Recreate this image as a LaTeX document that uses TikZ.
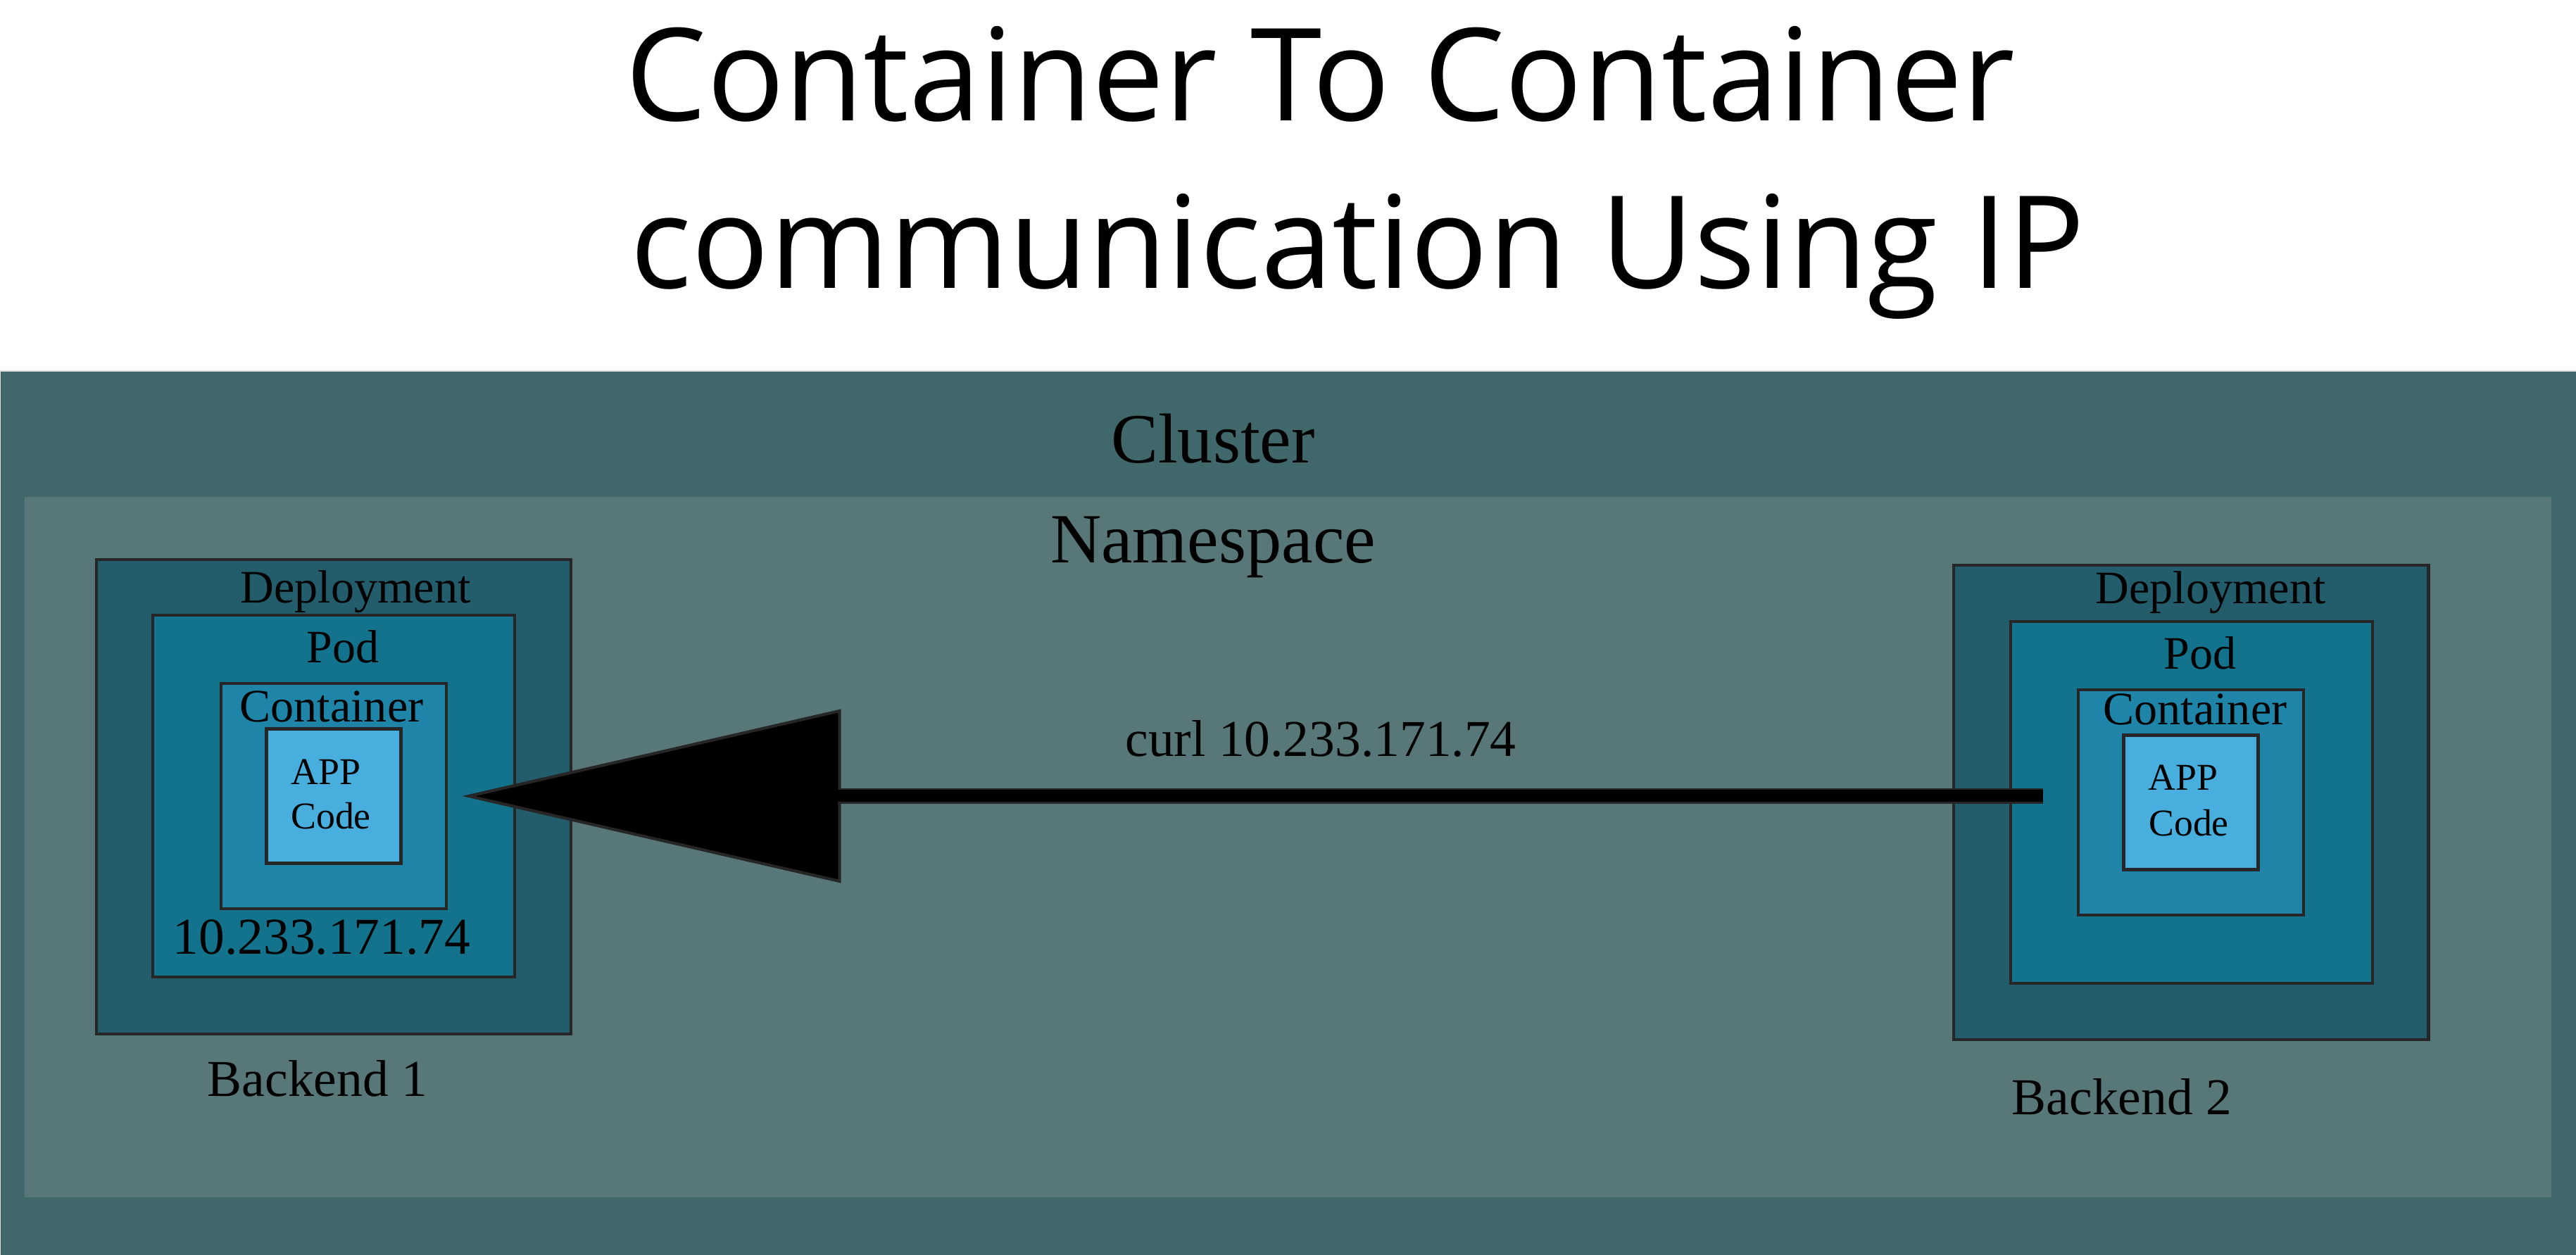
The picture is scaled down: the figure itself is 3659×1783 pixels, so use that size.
\documentclass[tikz,border=0pt]{standalone}
\usepackage{fontspec}
\setmainfont{Liberation Serif}
\newfontfamily\titlefont{Open Sans}
\usetikzlibrary{arrows.meta}
\definecolor{clustercol}{HTML}{40686A}
\definecolor{nscol}{HTML}{587779}
\definecolor{depcol}{HTML}{235D6B}
\definecolor{podcol}{HTML}{13738D}
\definecolor{contcol}{HTML}{1F85A8}
\definecolor{appcol}{HTML}{47AEDE}
\definecolor{edgecol}{HTML}{262626}
\begin{document}
\begin{tikzpicture}[x=0.01cm,y=-0.01cm,
  box/.style={draw=edgecol,line width=1.3pt,inner sep=0,minimum size=#1},
  lbl/.style={inner sep=0,anchor=base},
  big/.style={lbl,font=\fontsize{28.5}{30}\selectfont},
  mid/.style={lbl,font=\fontsize{18.8}{20}\selectfont},
  small/.style={lbl,font=\fontsize{15.3}{17}\selectfont},
  ip/.style={lbl,font=\fontsize{20.9}{23}\selectfont}]
  \useasboundingbox (0,0) rectangle (3659,1783);

  \node[anchor=base west,inner sep=0,font=\titlefont\fontsize{52}{60}\selectfont] (title1) at (888,172) {Container To Container};
  \node[anchor=base west,inner sep=0,font=\titlefont\fontsize{52}{60}\selectfont] (title2) at (895,410) {communication Using IP};

  \fill[clustercol] (0,527) rectangle (3659,1783);
  \draw[white!80!clustercol,line width=0.6pt] (0,1783) -- (0,527) -- (3659,527);
  \fill[nscol] (35,706) rectangle (3624,1701);
  \node[big] (cluster) at (1723,658) {Cluster};
  \node[big] (ns) at (1723,800) {Namespace};

  % backend 1
  \node[box=6.74cm,fill=depcol] (dep1) at (474,1132) {};
  \node[box=5.14cm,fill=podcol] (pod1) at (474,1131) {};
  \node[box=3.20cm,fill=contcol] (cont1) at (474,1131) {};
  \node[box=1.91cm,fill=appcol] (app1) at (474,1131) {};
  \node[mid] (dlbl1) at (505,857) {Deployment};
  \node[mid] (plbl1) at (487,942) {Pod};
  \node[mid] (clbl1) at (471,1026) {Container};
  \node[small] (alblA1) at (463,1115) {APP};
  \node[small] (alblB1) at (470,1178) {Code};
  \node[ip] (iplbl) at (457,1356) {10.233.171.74};
  \node[ip] (be1) at (451,1558) {Backend 1};

  % backend 2
  \node[box=6.74cm,fill=depcol] (dep2) at (3112,1140) {};
  \node[box=5.14cm,fill=podcol] (pod2) at (3113,1140) {};
  \node[box=3.20cm,fill=contcol] (cont2) at (3112,1140) {};
  \node[box=1.91cm,fill=appcol] (app2) at (3112,1140) {};
  \node[mid] (dlbl2) at (3140,858) {Deployment};
  \node[mid] (plbl2) at (3125,951) {Pod};
  \node[mid] (clbl2) at (3118,1030) {Container};
  \node[small] (alblA2) at (3101,1123) {APP};
  \node[small] (alblB2) at (3109,1188) {Code};
  \node[ip] (be2) at (3014,1584) {Backend 2};

  \coordinate (src) at (2902,1131);
  \draw[line width=0.22cm,draw=edgecol,shorten >=0.2cm,
    -{Triangle[length=5.38cm,width=2.46cm,fill=black,line width=1.2pt]}]
    (src) -- (cont1.east);
  \draw[line width=0.17cm,shorten >=5.5cm] (src) -- (cont1.east);
  \node[ip] (curl) at (1876,1075) {curl 10.233.171.74};
\end{tikzpicture}
\end{document}
